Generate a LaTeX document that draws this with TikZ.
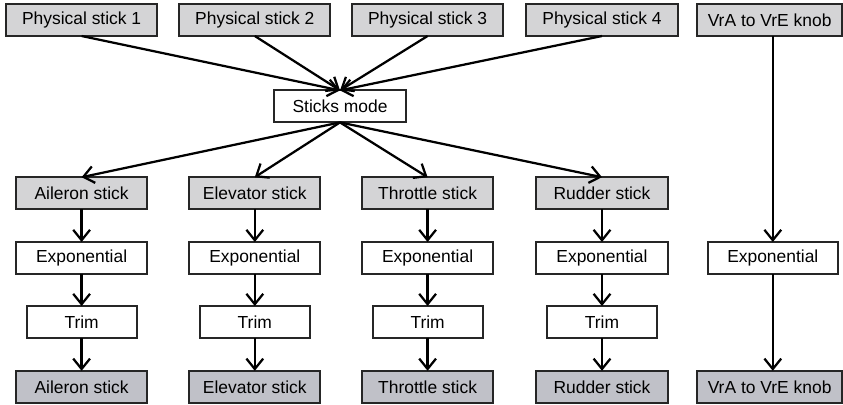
\documentclass[tikz,border=0pt]{standalone}
\usepackage{fontspec}
\setmainfont{Liberation Sans}
\usepackage{xcolor}
\usetikzlibrary{arrows.meta,positioning,calc}

\definecolor{ingrey}{RGB}{212,212,214}
\definecolor{outgrey}{RGB}{192,193,200}

\begin{document}
\begin{tikzpicture}[
    inbox/.style={rectangle, draw=black!85, line width=1.3pt, fill=ingrey,
                  minimum width=3.78cm, minimum height=0.8cm, inner sep=0pt,
                  outer sep=0pt, font=\fontsize{12.4}{14}\selectfont},
    stick/.style={rectangle, draw=black!85, line width=1.3pt, fill=ingrey,
                  minimum width=3.28cm, minimum height=0.8cm, inner sep=0pt,
                  outer sep=0pt, font=\fontsize{12.4}{14}\selectfont},
    proc/.style={rectangle, draw=black!85, line width=1.3pt, fill=white,
                 minimum width=3.28cm, minimum height=0.8cm, inner sep=0pt,
                 outer sep=0pt, font=\fontsize{12.4}{14}\selectfont},
    trimbox/.style={proc, minimum width=2.75cm},
    outbox/.style={stick, fill=outgrey},
    arr/.style={-{Straight Barb[length=2.6mm,width=4.2mm]}, line width=1.6pt},
]
\useasboundingbox (0,0) rectangle (21.075,-10.1);

%% ─── Physical inputs ────────────────────────────────────────────────────────
\node[inbox] (p1) at (2.04,-0.5)  {Physical stick 1};
\node[inbox] (p2) at (6.37,-0.5)  {Physical stick 2};
\node[inbox] (p3) at (10.69,-0.5) {Physical stick 3};
\node[inbox] (p4) at (15.05,-0.5) {Physical stick 4};
\node[inbox, minimum width=3.63cm] (k_in) at (19.24,-0.5) {VrA to VrE knob};

%% ─── Mixer ──────────────────────────────────────────────────────────────────
\node[proc] (mode) at (8.5,-2.66) {Sticks mode};

%% ─── Logical sticks ─────────────────────────────────────────────────────────
\node[stick] (ail)  at (2.04,-4.83)  {Aileron stick};
\node[stick] (ele)  at (6.37,-4.83)  {Elevator stick};
\node[stick] (thr)  at (10.69,-4.83) {Throttle stick};
\node[stick] (rud)  at (15.05,-4.83) {Rudder stick};

%% ─── Exponential + trim chains ──────────────────────────────────────────────
\node[proc] (ail_exp) at (2.04,-6.45)  {Exponential};
\node[proc] (ele_exp) at (6.37,-6.45)  {Exponential};
\node[proc] (thr_exp) at (10.69,-6.45) {Exponential};
\node[proc] (rud_exp) at (15.05,-6.45) {Exponential};

\node[trimbox] (ail_trim) at (2.04,-8.05)  {Trim};
\node[trimbox] (ele_trim) at (6.37,-8.05)  {Trim};
\node[trimbox] (thr_trim) at (10.69,-8.05) {Trim};
\node[trimbox] (rud_trim) at (15.05,-8.05) {Trim};

\node[outbox] (ail_out) at (2.04,-9.67)  {Aileron stick};
\node[outbox] (ele_out) at (6.37,-9.67)  {Elevator stick};
\node[outbox] (thr_out) at (10.69,-9.67) {Throttle stick};
\node[outbox] (rud_out) at (15.05,-9.67) {Rudder stick};

%% ─── Knob column ────────────────────────────────────────────────────────────
\node[proc, minimum width=3.25cm] (k_exp) at (19.32,0 |- rud_exp) {Exponential};
\node[outbox, minimum width=3.63cm] (k_out) at (19.24,0 |- rud_out) {VrA to VrE knob};

%% ─── Inputs into mixer ──────────────────────────────────────────────────────
\draw[arr] (p1.south) -- (mode.north);
\draw[arr] (p2.south) -- (mode.north);
\draw[arr] (p3.south) -- (mode.north);
\draw[arr] (p4.south) -- (mode.north);

%% ─── Mixer fan-out ──────────────────────────────────────────────────────────
\draw[arr] (mode.south) -- (ail.north);
\draw[arr] (mode.south) -- (ele.north);
\draw[arr] (mode.south) -- (thr.north);
\draw[arr] (mode.south) -- (rud.north);

%% ─── Chains ─────────────────────────────────────────────────────────────────
\foreach \s in {ail,ele,thr,rud}{
    \draw[arr] (\s)      -- (\s_exp);
    \draw[arr] (\s_exp)  -- (\s_trim);
    \draw[arr] (\s_trim) -- (\s_out);
}

\draw[arr] (k_in.south -| k_exp.north) -- (k_exp.north);
\draw[arr] (k_exp.south) -- (k_exp.south |- k_out.north);

\end{tikzpicture}
\end{document}
